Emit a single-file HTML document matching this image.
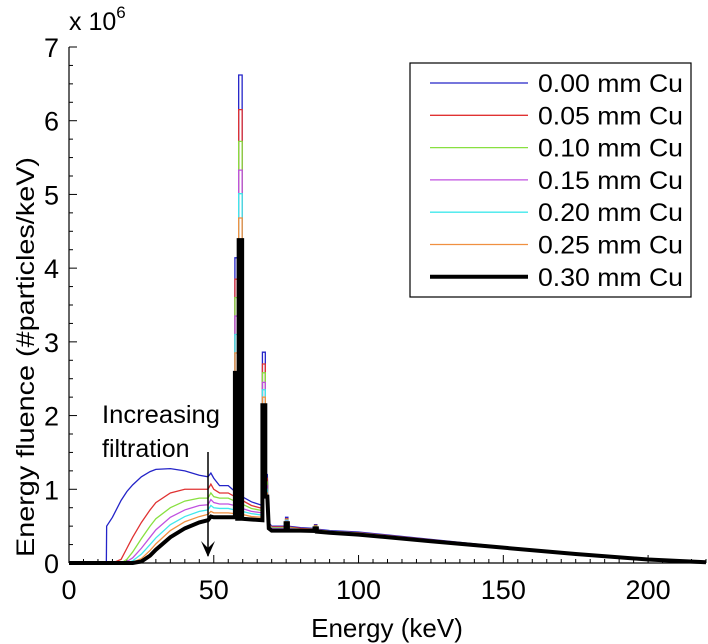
<!DOCTYPE html>
<html><head><meta charset="utf-8"><style>
body{margin:0;background:#fff}
svg{display:block;font-family:"Liberation Sans",Arial,sans-serif}
</style></head><body>
<svg id="chart" width="708" height="644" viewBox="0 0 708 644">
<g id="ticks"></g>
<g id="series"></g>
<text x="69" y="30" font-size="25">x 10<tspan dy="-12" font-size="17">6</tspan></text>
<text transform="translate(34,357) rotate(-90)" text-anchor="middle" font-size="25" textLength="400" lengthAdjust="spacingAndGlyphs">Energy fluence (#particles/keV)</text>
<text x="387" y="637" text-anchor="middle" font-size="26">Energy (keV)</text>
<text x="102" y="423" font-size="25" textLength="118" lengthAdjust="spacingAndGlyphs">Increasing</text>
<text x="102" y="457" font-size="25">filtration</text>
<g><line x1="208" y1="452" x2="208" y2="556" stroke="#000" stroke-width="1.5"/><path d="M201,541 L208,557 L215,541 L208,548 Z" fill="#000"/></g>
<g id="legend"></g>
</svg>
<script>
const energies=[0,12.9,13,15,18,20,22,25,28,30,35,40,45,48,49,50,52,55,57.3,57.3,58.1,58.1,58.6,58.6,59.8,59.8,63,66.8,66.8,67.8,67.8,68.5,69,70,74.8,74.8,75.6,75.6,80,84.8,84.8,85.6,85.6,90,100,125,150,175,200,220];
const s000=[0,0,0.5,0.62,0.85,0.97,1.06,1.17,1.24,1.27,1.28,1.25,1.19,1.17,1.22,1.15,1.05,1.05,0.97,4.14,4.14,0.95,0.95,6.62,6.62,0.9,0.83,0.78,2.86,2.86,1.2,1.2,0.55,0.5,0.5,0.62,0.62,0.5,0.48,0.47,0.52,0.52,0.46,0.44,0.42,0.32,0.22,0.13,0.05,0.01];
const s005=[0,0,0,0,0.05,0.2,0.35,0.55,0.72,0.82,0.95,1.0,1.0,1.0,1.07,1.0,0.95,0.95,0.9,3.85,3.85,0.88,0.88,6.15,6.15,0.85,0.78,0.74,2.7,2.7,1.15,1.15,0.53,0.49,0.49,0.6,0.6,0.49,0.47,0.46,0.51,0.51,0.45,0.43,0.41,0.315,0.218,0.128,0.049,0.01];
const s010=[0,0,0,0,0,0.05,0.15,0.33,0.5,0.6,0.75,0.84,0.88,0.88,0.95,0.9,0.88,0.88,0.84,3.6,3.6,0.82,0.82,5.72,5.72,0.8,0.74,0.71,2.58,2.58,1.1,1.1,0.52,0.48,0.48,0.59,0.59,0.48,0.46,0.455,0.5,0.5,0.445,0.43,0.405,0.31,0.216,0.127,0.049,0.01];
const s015=[0,0,0,0,0,0.02,0.07,0.2,0.35,0.45,0.62,0.72,0.78,0.79,0.86,0.82,0.8,0.8,0.78,3.35,3.35,0.76,0.76,5.33,5.33,0.74,0.7,0.68,2.45,2.45,1.05,1.05,0.51,0.47,0.47,0.58,0.58,0.47,0.455,0.45,0.49,0.49,0.44,0.425,0.4,0.305,0.214,0.126,0.048,0.01];
const s020=[0,0,0,0,0,0,0.03,0.12,0.25,0.34,0.52,0.63,0.7,0.72,0.78,0.75,0.74,0.74,0.72,3.1,3.1,0.71,0.71,5.01,5.01,0.7,0.67,0.65,2.35,2.35,1.0,1.0,0.5,0.46,0.46,0.57,0.57,0.46,0.45,0.445,0.485,0.485,0.435,0.42,0.395,0.3,0.212,0.125,0.048,0.01];
const s025=[0,0,0,0,0,0,0.01,0.06,0.17,0.26,0.44,0.56,0.63,0.66,0.7,0.68,0.68,0.68,0.67,2.85,2.85,0.66,0.66,4.68,4.68,0.66,0.63,0.62,2.25,2.25,0.95,0.95,0.49,0.45,0.45,0.56,0.56,0.45,0.445,0.44,0.48,0.48,0.43,0.415,0.39,0.298,0.21,0.124,0.047,0.01];
const s030=[0,0,0,0,0,0,0,0.02,0.1,0.18,0.35,0.47,0.55,0.58,0.63,0.62,0.62,0.62,0.62,2.58,2.58,0.6,0.6,4.38,4.38,0.6,0.59,0.58,2.14,2.14,0.9,0.9,0.47,0.44,0.44,0.54,0.54,0.44,0.44,0.435,0.47,0.47,0.425,0.41,0.385,0.295,0.208,0.122,0.047,0.01];
const seriesLabels=["0.00 mm Cu","0.05 mm Cu","0.10 mm Cu","0.15 mm Cu","0.20 mm Cu","0.25 mm Cu","0.30 mm Cu"];
const xTicks=[0,50,100,150,200];
const yTicks=[0,1,2,3,4,5,6,7];

const NS="http://www.w3.org/2000/svg";
const X0=69,X1=706,Y0=563,Y1=47;
const xs=e=>X0+(e/220)*(X1-X0);
const ys=v=>Y0-(v/7)*(Y0-Y1);
function mk(tag,attrs,parent){const el=document.createElementNS(NS,tag);for(const k in attrs)el.setAttribute(k,attrs[k]);parent.appendChild(el);return el;}
const ax=document.getElementById('ticks');
const xl=mk('line',{x1:X0,y1:Y0,x2:X1,y2:Y0,stroke:'#000','stroke-width':1.2},ax);


const yl=mk('line',{x1:X0,y1:Y0,x2:X0,y2:Y1,stroke:'#000','stroke-width':1.2},ax);


for(let e=0;e<=220;e+=5){const major=e%50===0;mk('line',{x1:xs(e),y1:Y0,x2:xs(e),y2:Y0-(major?8:4),stroke:'#000','stroke-width':1},ax);}
for(let v=0;v<=7;v+=0.25){const major=Math.abs(v-Math.round(v))<1e-6;mk('line',{x1:X0,y1:ys(v),x2:X0+(major?8:4),y2:ys(v),stroke:'#000','stroke-width':1},ax);}
xTicks.forEach(t=>{const tx=mk('text',{x:xs(t),y:Y0+36,'text-anchor':'middle','font-size':27},ax);tx.textContent=t;

});
yTicks.forEach(t=>{const tx=mk('text',{x:X0-10,y:ys(t)+10,'text-anchor':'end','font-size':27},ax);tx.textContent=t;

});

const all=[s000,s005,s010,s015,s020,s025,s030];
const colors=['#2424c8','#e03232','#88e040','#c050e0','#40e8ec','#f09040','#000'];
const widths=[1.3,1.3,1.3,1.3,1.3,1.3,4];
const sg=document.getElementById('series');
all.forEach((vals,i)=>{
  let d='M'+xs(energies[0])+','+ys(vals[0]);
  for(let k=1;k<energies.length;k++){d+=' L'+xs(energies[k])+','+ys(vals[k]);}
  const p=mk('path',{d:d,fill:'none',stroke:colors[i],'stroke-width':widths[i],'stroke-linejoin':'miter','stroke-miterlimit':20},sg);
  
  
});
const lg=document.getElementById('legend');
const box=mk('rect',{x:410,y:63,width:281,height:234,fill:'#fff',stroke:'#000','stroke-width':1.2},lg);


seriesLabels.forEach((lab,i)=>{
  const y=83+i*32.3;
  const ln=mk('line',{x1:430,y1:y,x2:528,y2:y,stroke:colors[i],'stroke-width':widths[i]},lg);
  
  
  const t=mk('text',{x:538,y:y+9,'font-size':25,textLength:145,lengthAdjust:'spacingAndGlyphs'},lg);t.textContent=lab;
  
  
});
</script>
</body></html>
